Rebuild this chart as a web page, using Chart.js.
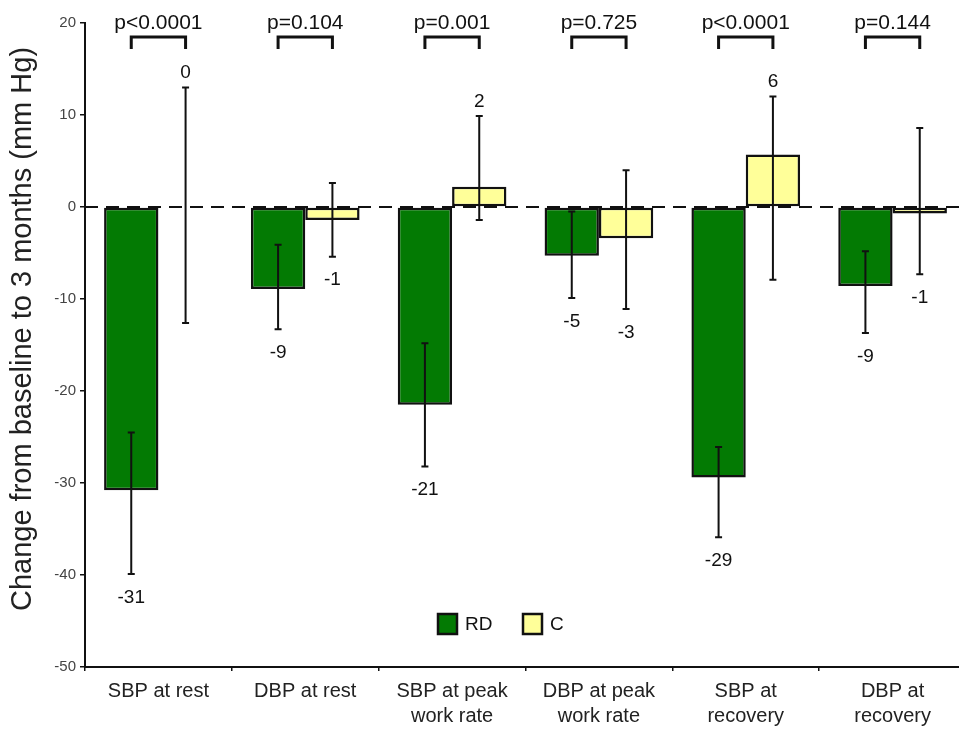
<!DOCTYPE html>
<html>
<head>
<meta charset="utf-8">
<script src="https://cdn.jsdelivr.net/npm/chart.js@4.4.1/dist/chart.umd.min.js"></script>
<style>
  html, body { margin: 0; padding: 0; background: #fff; overflow: hidden; }
  #wrap { width: 966px; height: 729px; position: relative; }
</style>
</head>
<body>
<div id="wrap"><canvas id="chart"></canvas></div>
<script>
// Categories (multi-line axis labels)
const categories = [
  ["SBP at rest"],
  ["DBP at rest"],
  ["SBP at peak", "work rate"],
  ["DBP at peak", "work rate"],
  ["SBP at", "recovery"],
  ["DBP at", "recovery"]
];

// Mean change from baseline to 3 months (mm Hg)
const rdValues = [-30.8, -8.9, -21.5, -5.3, -29.4, -8.6];
const cValues  = [0, -1.4, 2.2, -3.4, 5.7, -0.7];

// Error bar ends (lower / upper)
const rdLow  = [-39.9, -13.3, -28.2, -9.9, -35.9, -13.7];
const rdHigh = [-24.5, -4.1, -14.8, -0.5, -26.1, -4.8];
const cLow   = [-12.6, -5.4, -1.4, -11.1, -7.9, -7.3];
const cHigh  = [13.0, 2.6, 9.9, 4.0, 12.0, 8.6];

// Between-group p-values
const pValues = ["p<0.0001", "p=0.104", "p=0.001", "p=0.725", "p<0.0001", "p=0.144"];

// Y axis
const yMin = -50, yMax = 20, yStep = 10;
const yTitle = "Change from baseline to 3 months (mm Hg)";

const FONT = "'Liberation Sans', Arial, Helvetica, sans-serif";
const GREEN = "#037a03";
const YELLOW = "#ffff99";

const errorBars = [
  { low: rdLow, high: rdHigh },
  { low: cLow, high: cHigh }
];

const annotate = {
  id: "annotate",
  beforeDatasetsDraw(chart) {
    const { ctx, chartArea, scales } = chart;
    const y0 = scales.y.getPixelForValue(0);
    ctx.save();
    ctx.strokeStyle = "#111";
    ctx.lineWidth = 2;
    ctx.setLineDash([13, 8]);
    ctx.beginPath();
    ctx.moveTo(chartArea.left, y0);
    ctx.lineTo(chartArea.right, y0);
    ctx.stroke();
    ctx.restore();
  },
  afterDatasetsDraw(chart) {
    const { ctx, chartArea, scales } = chart;
    const ys = scales.y;
    ctx.save();
    ctx.strokeStyle = "#111";
    ctx.fillStyle = "#111";
    ctx.lineWidth = 2;
    ctx.setLineDash([]);

    // error bars + value labels
    chart.data.datasets.forEach((ds, di) => {
      const meta = chart.getDatasetMeta(di);
      meta.data.forEach((bar, i) => {
        const x = bar.x;
        const yl = ys.getPixelForValue(errorBars[di].low[i]);
        const yh = ys.getPixelForValue(errorBars[di].high[i]);
        ctx.lineWidth = 2;
        ctx.beginPath();
        ctx.moveTo(x, yl); ctx.lineTo(x, yh);
        ctx.moveTo(x - 3.5, yl); ctx.lineTo(x + 3.5, yl);
        ctx.moveTo(x - 3.5, yh); ctx.lineTo(x + 3.5, yh);
        ctx.stroke();

        const v = ds.data[i];
        const txt = String(Math.round(v));
        ctx.font = "19px " + FONT;
        ctx.textAlign = "center";
        ctx.fillStyle = "#111";
        if (v >= 0) {
          ctx.textBaseline = "bottom";
          ctx.fillText(txt, x, yh - 5);
        } else {
          ctx.textBaseline = "top";
          ctx.fillText(txt, x, yl + 14);
        }
      });
    });

    // p-value brackets
    const m0 = chart.getDatasetMeta(0), m1 = chart.getDatasetMeta(1);
    const top = chartArea.top;
    pValues.forEach((p, i) => {
      const xa = m0.data[i].x, xb = m1.data[i].x;
      ctx.lineWidth = 3;
      ctx.beginPath();
      ctx.moveTo(xa, top + 26);
      ctx.lineTo(xa, top + 14);
      ctx.lineTo(xb, top + 14);
      ctx.lineTo(xb, top + 26);
      ctx.stroke();
      ctx.font = "21px " + FONT;
      ctx.textAlign = "center";
      ctx.textBaseline = "middle";
      ctx.fillText(p, (xa + xb) / 2, top);
    });

    // legend
    const ly = chartArea.bottom - 43;
    let lx = chartArea.left + 353;
    ctx.font = "19px " + FONT;
    ctx.textAlign = "left";
    ctx.textBaseline = "middle";
    chart.data.datasets.forEach((ds) => {
      ctx.fillStyle = ds.backgroundColor;
      ctx.fillRect(lx, ly - 10, 19, 20);
      ctx.lineWidth = 2.5;
      ctx.strokeStyle = "#111";
      ctx.strokeRect(lx, ly - 10, 19, 20);
      ctx.fillStyle = "#111";
      ctx.fillText(ds.label, lx + 27, ly + 1);
      lx += 85;
    });

    // y axis title
    ctx.save();
    ctx.translate(23, 329);
    ctx.rotate(-Math.PI / 2);
    ctx.font = "29px " + FONT;
    ctx.textAlign = "center";
    ctx.textBaseline = "middle";
    ctx.fillStyle = "#222";
    ctx.fillText(yTitle, 0, 0);
    ctx.restore();

    ctx.restore();
  }
};

new Chart(document.getElementById("chart"), {
  type: "bar",
  data: {
    labels: categories,
    datasets: [
      { label: "RD", data: rdValues, backgroundColor: GREEN, borderColor: "#111", borderWidth: 2.5, borderSkipped: false },
      { label: "C", data: cValues, backgroundColor: YELLOW, borderColor: "#111", borderWidth: 2.5, borderSkipped: false }
    ]
  },
  options: {
    responsive: true,
    maintainAspectRatio: false,
    animation: false,
    layout: { padding: { top: 23, right: 0, left: 0, bottom: 0 } },
    datasets: { bar: { categoryPercentage: 0.74, barPercentage: 1.0 } },
    plugins: { legend: { display: false }, tooltip: { enabled: false } },
    scales: {
      x: {
        offset: true,
        grid: { display: true, drawOnChartArea: false, offset: true, tickLength: 4, color: "#111", lineWidth: 1.5 },
        border: { display: true, color: "#111", width: 2 },
        ticks: { color: "#222", font: { family: FONT, size: 20, lineHeight: 1.25 }, padding: 8, maxRotation: 0, autoSkip: false },
        afterFit(scale) { scale.height = 62; }
      },
      y: {
        min: yMin, max: yMax,
        grid: { display: true, drawOnChartArea: false, tickLength: 5, color: "#111", lineWidth: 1.5 },
        border: { display: true, color: "#111", width: 2 },
        ticks: { stepSize: yStep, color: "#444", font: { family: FONT, size: 15 }, padding: 4 },
        title: { display: false },
        afterFit(scale) { scale.width = 85; }
      }
    }
  },
  plugins: [annotate]
});
</script>
</body>
</html>
